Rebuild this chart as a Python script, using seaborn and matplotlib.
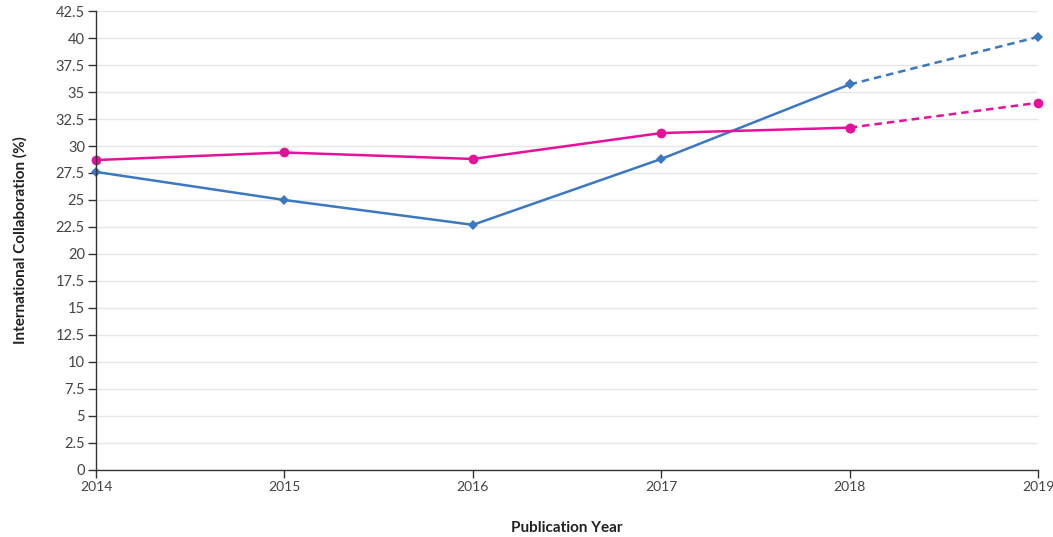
import pandas as pd
import matplotlib.pyplot as plt
import seaborn as sns

years = [2014, 2015, 2016, 2017, 2018, 2019]
blue_vals = [27.6, 25.0, 22.7, 28.8, 35.7, 40.1]
pink_vals = [28.7, 29.4, 28.8, 31.2, 31.7, 34.0]
yticks = [i * 2.5 for i in range(18)]
ytick_labels = ['0', '2.5', '5', '7.5', '10', '12.5', '15', '17.5', '20', '22.5',
                '25', '27.5', '30', '32.5', '35', '37.5', '40', '42.5']

sns.set_style('white')
plt.rcParams['font.family'] = ['Lato', 'DejaVu Sans']

blue = '#3b78c2'
pink = '#e6119a'

df = pd.DataFrame({'year': years, 'blue': blue_vals, 'pink': pink_vals})
solid = df[df.year <= 2018]
dashed = df[df.year >= 2018]

fig = plt.figure(figsize=(10.53, 5.37), dpi=100)
ax = fig.add_axes([0.0912, 0.1248, 0.8946, 0.8547])

for col, color, mk, ms in [('blue', blue, 'D', 5.5), ('pink', pink, 'o', 7)]:
    sns.lineplot(x='year', y=col, data=solid, color=color, marker=mk, markersize=ms,
                 markeredgewidth=0, linewidth=1.8, ax=ax)
    sns.lineplot(x='year', y=col, data=dashed, color=color, marker=mk, markersize=ms,
                 markeredgewidth=0, linewidth=1.8, linestyle=(0, (3, 2)), ax=ax)

ax.set_xlim(2014, 2019)
ax.set_ylim(0, 42.5)
ax.set_xticks(years)
ax.set_xticklabels([str(y) for y in years], fontsize=10, color='#444444')
ax.set_yticks(yticks)
ax.set_yticklabels(ytick_labels, fontsize=10.5, color='#444444')
ax.yaxis.grid(True, color='#e6e6e6', linewidth=1)
ax.xaxis.grid(False)
ax.set_axisbelow(True)
ax.tick_params(axis='both', direction='out', length=6, width=1, color='#333333', pad=2,
               left=True, bottom=True)
for s in ['top', 'right']:
    ax.spines[s].set_visible(False)
for s in ['left', 'bottom']:
    ax.spines[s].set_color('#333333')
    ax.spines[s].set_linewidth(1)
ax.set_xlabel('Publication Year', fontsize=11, fontweight='bold', color='#222222', labelpad=20)
ax.set_ylabel('International Collaboration (%)', fontsize=11, fontweight='bold', color='#222222', labelpad=20)
for l in ax.get_xticklabels() + ax.get_yticklabels():
    l.set_clip_on(False)
for line in ax.lines:
    line.set_clip_on(False)

plt.savefig('out.png', dpi=100)
